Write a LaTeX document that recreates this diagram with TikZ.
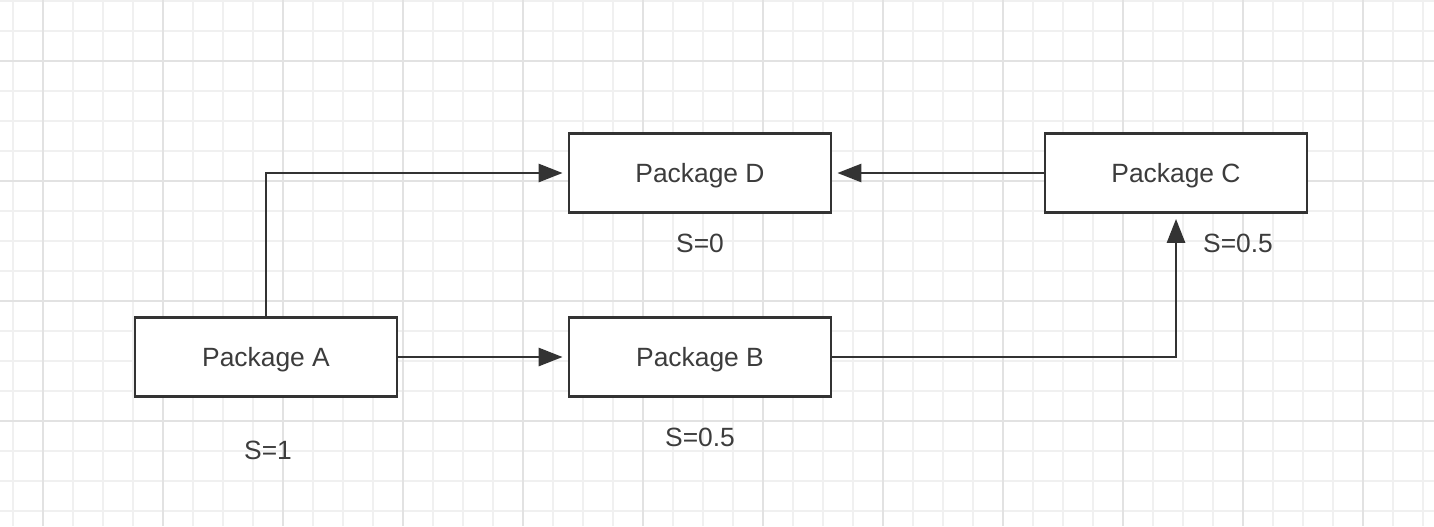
\documentclass[tikz,border=0pt]{standalone}
\usepackage{fontspec}
\setmainfont{Liberation Sans}
\usetikzlibrary{arrows.meta}
\definecolor{inkgray}{HTML}{333333}
\definecolor{textgray}{HTML}{3C3C3C}
\definecolor{gridminor}{HTML}{F0F0F0}
\definecolor{gridmajor}{HTML}{E2E2E2}
\begin{document}
\begin{tikzpicture}[x=0.5pt, y=-0.5pt, >={Triangle[length=12pt,width=9pt]},
  pkg/.style={draw=inkgray, line width=1.4pt, fill=white, minimum width=131pt, minimum height=39.5pt, inner sep=0pt, text depth=0pt, text=textgray, font=\fontsize{13.2}{15}\selectfont},
  score/.style={text=textgray, inner sep=0pt, font=\fontsize{13.2}{15}\selectfont},
  link/.style={->, draw=inkgray, line width=1.4pt, shorten >=2.5pt}]
\useasboundingbox (0,0) rectangle (1434,526);
% background grid
\fill[white] (0,0) rectangle (1434,526);
\foreach \gx in {13,43,...,1433} \draw[gridminor, line width=0.7pt] (\gx,0) -- (\gx,526);
\foreach \gy in {1,31,...,525} \draw[gridminor, line width=0.7pt] (0,\gy) -- (1434,\gy);
\foreach \gx in {43,163,...,1433} \draw[gridmajor, line width=0.7pt] (\gx,0) -- (\gx,526);
\foreach \gy in {61,181,...,525} \draw[gridmajor, line width=0.7pt] (0,\gy) -- (1434,\gy);
% packages
\node[pkg] (a) at (266,357) {Package A};
\node[pkg] (b) at (700,357) {Package B};
\node[pkg] (d) at (700,173) {Package D};
\node[pkg] (c) at (1176,173) {Package C};
% scores
\node[score] (sa) at (268,450) {S=1};
\node[score] (sb) at (700,437) {S=0.5};
\node[score] (sd) at (700,243) {S=0};
\node[score] (sc) at (1238,243) {S=0.5};
% dependencies
\draw[link] (a.north) |- (d.west);
\draw[link] (a.east) -- (b.west);
\draw[link] (b.east) -| (c.south);
\draw[link] (c.west) -- (d.east);
\end{tikzpicture}
\end{document}
